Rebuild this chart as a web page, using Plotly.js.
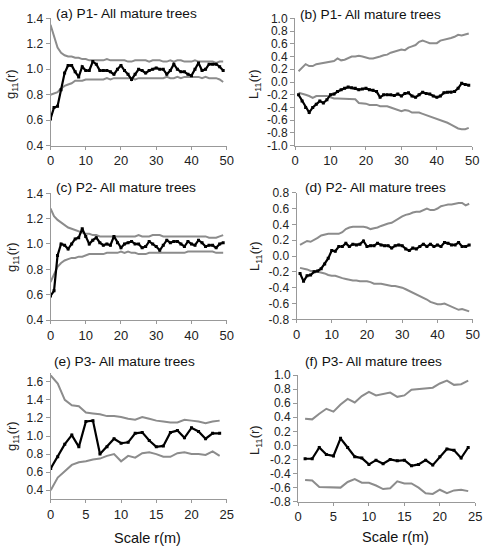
<!DOCTYPE html>
<html>
<head>
<meta charset="utf-8">
<script src="https://cdn.plot.ly/plotly-3.0.1.min.js"></script>
<style>
  html, body { margin: 0; padding: 0; background: #fff; }
  #chart { width: 484px; height: 550px; }
</style>
</head>
<body>
<div id="chart"></div>
<script>
// Scale r (m)
const r0to49 = [0,1,2,3,4,5,6,7,8,9,10,11,12,13,14,15,16,17,18,19,20,21,22,23,24,25,26,27,28,29,30,31,32,33,34,35,36,37,38,39,40,41,42,43,44,45,46,47,48,49];
const r1to49 = [1,2,3,4,5,6,7,8,9,10,11,12,13,14,15,16,17,18,19,20,21,22,23,24,25,26,27,28,29,30,31,32,33,34,35,36,37,38,39,40,41,42,43,44,45,46,47,48,49];
const r0to24 = [0,1,2,3,4,5,6,7,8,9,10,11,12,13,14,15,16,17,18,19,20,21,22,23,24];
const r1to24 = [1,2,3,4,5,6,7,8,9,10,11,12,13,14,15,16,17,18,19,20,21,22,23,24];

// (a) P1 g11(r)
const gP1 = [0.61,0.70,0.71,0.84,0.97,1.03,1.03,0.98,0.94,1.02,0.99,0.99,1.06,1.04,0.99,0.99,0.99,0.98,0.96,1.00,1.03,0.99,0.96,0.92,0.96,1.00,0.99,0.97,0.99,1.00,1.01,1.00,1.00,0.96,0.99,1.04,1.00,0.98,0.98,0.96,0.95,1.00,1.05,0.99,1.00,1.04,1.04,1.04,1.02,0.99];
const gP1Hi = [1.35,1.25,1.17,1.13,1.11,1.10,1.10,1.09,1.09,1.08,1.08,1.07,1.07,1.07,1.07,1.07,1.08,1.07,1.07,1.07,1.07,1.07,1.06,1.06,1.07,1.07,1.07,1.07,1.06,1.07,1.07,1.07,1.06,1.06,1.07,1.06,1.07,1.07,1.06,1.06,1.06,1.07,1.06,1.06,1.06,1.06,1.06,1.05,1.06,1.06];
const gP1Lo = [0.80,0.81,0.82,0.85,0.87,0.88,0.89,0.91,0.91,0.91,0.92,0.92,0.92,0.92,0.92,0.92,0.93,0.92,0.93,0.93,0.93,0.93,0.93,0.93,0.92,0.93,0.93,0.93,0.93,0.93,0.93,0.93,0.93,0.94,0.93,0.93,0.94,0.93,0.94,0.94,0.94,0.94,0.94,0.93,0.94,0.93,0.93,0.93,0.92,0.90];

// (b) P1 L11(r)
const lP1 = [-0.20,-0.30,-0.40,-0.48,-0.40,-0.35,-0.30,-0.33,-0.28,-0.20,-0.19,-0.15,-0.12,-0.10,-0.08,-0.09,-0.10,-0.12,-0.11,-0.10,-0.12,-0.13,-0.15,-0.24,-0.20,-0.20,-0.20,-0.21,-0.19,-0.22,-0.18,-0.17,-0.22,-0.24,-0.20,-0.16,-0.18,-0.19,-0.22,-0.24,-0.22,-0.17,-0.16,-0.16,-0.15,-0.10,-0.02,-0.04,-0.05];
const lP1Hi = [0.17,0.22,0.28,0.25,0.25,0.28,0.29,0.30,0.30,0.31,0.33,0.37,0.34,0.35,0.38,0.40,0.40,0.41,0.40,0.38,0.37,0.37,0.38,0.40,0.42,0.43,0.46,0.48,0.49,0.51,0.50,0.54,0.56,0.58,0.63,0.65,0.63,0.61,0.61,0.61,0.65,0.66,0.67,0.69,0.71,0.74,0.73,0.75,0.76];
const lP1Lo = [-0.17,-0.18,-0.20,-0.22,-0.25,-0.22,-0.22,-0.22,-0.22,-0.24,-0.26,-0.26,-0.26,-0.26,-0.27,-0.27,-0.27,-0.33,-0.33,-0.34,-0.36,-0.36,-0.36,-0.38,-0.38,-0.38,-0.40,-0.42,-0.45,-0.46,-0.44,-0.45,-0.48,-0.48,-0.48,-0.50,-0.52,-0.54,-0.55,-0.57,-0.60,-0.62,-0.64,-0.67,-0.70,-0.73,-0.74,-0.74,-0.72];

// (c) P2 g11(r)
const gP2 = [0.59,0.63,0.91,1.00,0.99,0.96,1.00,1.04,1.05,1.12,1.06,1.00,1.03,1.05,1.01,0.99,1.00,0.99,1.06,1.01,0.97,1.00,1.01,1.02,1.00,1.00,0.97,0.98,1.02,1.00,0.98,0.95,0.99,1.03,1.01,1.02,1.02,1.00,0.98,1.02,1.00,0.99,1.03,1.01,0.98,0.99,0.99,0.97,1.00,1.01];
const gP2Hi = [1.28,1.22,1.19,1.17,1.15,1.13,1.12,1.11,1.10,1.09,1.08,1.08,1.07,1.07,1.06,1.06,1.06,1.06,1.06,1.06,1.06,1.06,1.06,1.06,1.06,1.07,1.06,1.06,1.06,1.07,1.07,1.07,1.06,1.06,1.06,1.06,1.06,1.06,1.06,1.06,1.06,1.06,1.06,1.06,1.06,1.05,1.05,1.05,1.06,1.07];
const gP2Lo = [0.70,0.76,0.82,0.85,0.87,0.88,0.89,0.89,0.90,0.90,0.91,0.92,0.92,0.92,0.92,0.92,0.93,0.93,0.93,0.93,0.94,0.93,0.94,0.93,0.93,0.92,0.92,0.92,0.93,0.93,0.93,0.93,0.93,0.93,0.93,0.93,0.93,0.93,0.93,0.94,0.94,0.94,0.94,0.94,0.94,0.94,0.94,0.93,0.93,0.93];

// (d) P2 L11(r)
const lP2 = [-0.22,-0.32,-0.25,-0.24,-0.20,-0.19,-0.16,-0.10,-0.03,0.07,0.06,0.12,0.12,0.16,0.12,0.15,0.14,0.15,0.19,0.12,0.13,0.13,0.16,0.14,0.13,0.13,0.10,0.13,0.14,0.13,0.09,0.07,0.10,0.09,0.12,0.15,0.12,0.15,0.12,0.14,0.12,0.17,0.16,0.14,0.14,0.17,0.12,0.12,0.14];
const lP2Hi = [0.14,0.17,0.19,0.18,0.20,0.23,0.26,0.27,0.28,0.28,0.28,0.28,0.30,0.34,0.36,0.37,0.37,0.37,0.37,0.36,0.34,0.35,0.36,0.38,0.40,0.41,0.42,0.45,0.48,0.50,0.52,0.53,0.55,0.56,0.56,0.58,0.60,0.58,0.58,0.60,0.63,0.64,0.65,0.65,0.66,0.67,0.67,0.64,0.66];
const lP2Lo = [-0.15,-0.16,-0.17,-0.19,-0.19,-0.20,-0.21,-0.22,-0.24,-0.25,-0.25,-0.27,-0.28,-0.29,-0.30,-0.31,-0.31,-0.32,-0.32,-0.32,-0.33,-0.35,-0.35,-0.35,-0.36,-0.37,-0.38,-0.38,-0.39,-0.40,-0.42,-0.44,-0.47,-0.48,-0.50,-0.52,-0.55,-0.58,-0.60,-0.61,-0.61,-0.60,-0.62,-0.64,-0.66,-0.68,-0.67,-0.69,-0.70];

// (e) P3 g11(r)
const gP3 = [0.64,0.77,0.91,1.01,0.88,1.16,1.17,0.80,0.88,0.97,0.92,0.93,1.03,1.04,0.95,0.88,0.89,1.04,1.06,0.98,1.09,1.05,0.97,1.03,1.03];
const gP3Hi = [1.67,1.58,1.40,1.34,1.33,1.26,1.25,1.24,1.22,1.22,1.21,1.19,1.18,1.21,1.19,1.17,1.16,1.15,1.15,1.18,1.17,1.16,1.14,1.16,1.17];
const gP3Lo = [0.40,0.54,0.61,0.68,0.71,0.72,0.74,0.75,0.78,0.80,0.72,0.78,0.76,0.81,0.82,0.80,0.77,0.77,0.81,0.82,0.80,0.80,0.79,0.83,0.78];

// (f) P3 L11(r)
const lP3 = [-0.19,-0.19,-0.03,-0.13,-0.15,0.10,-0.03,-0.16,-0.18,-0.27,-0.21,-0.26,-0.20,-0.22,-0.21,-0.29,-0.27,-0.21,-0.28,-0.16,-0.05,-0.07,-0.18,-0.03];
const lP3Hi = [0.38,0.37,0.45,0.52,0.48,0.58,0.66,0.61,0.70,0.76,0.71,0.73,0.75,0.69,0.71,0.79,0.80,0.81,0.82,0.88,0.92,0.86,0.87,0.92];
const lP3Lo = [-0.49,-0.50,-0.59,-0.59,-0.59,-0.60,-0.52,-0.48,-0.53,-0.53,-0.57,-0.62,-0.61,-0.51,-0.54,-0.54,-0.60,-0.68,-0.69,-0.63,-0.68,-0.64,-0.63,-0.65];

// Tick labels
const xTicks50 = [0, 10, 20, 30, 40, 50];
const xTicks25 = [0, 5, 10, 15, 20, 25];
const yTicksG = [0.4, 0.6, 0.8, 1.0, 1.2, 1.4];
const yTicksG3 = [0.4, 0.6, 0.8, 1.0, 1.2, 1.4, 1.6];
const yTicksL1 = [-1.0, -0.8, -0.6, -0.4, -0.2, 0.0, 0.2, 0.4, 0.6, 0.8, 1.0];
const yTicksL2 = [-0.8, -0.6, -0.4, -0.2, 0.0, 0.2, 0.4, 0.6, 0.8];
const yTicksL3 = [-0.8, -0.6, -0.4, -0.2, 0.0, 0.2, 0.4, 0.6, 0.8, 1.0];

const panelTitles = ['(a) P1- All mature trees', '(b) P1- All mature trees',
  '(c) P2- All mature trees', '(d) P2- All mature trees',
  '(e) P3- All mature trees', '(f) P3- All mature trees'];

const W = 484, H = 550;
const FONT = 'Liberation Sans, Arial, sans-serif';
const GREY = '#8c8c8c';

// one panel = two envelope lines + observed line
function panel(n, x, obs, hi, lo) {
  const ax = n === 1 ? '' : n;
  const env = (y) => ({ x: x, y: y, type: 'scatter', mode: 'lines',
    line: { color: GREY, width: 2 }, xaxis: 'x' + ax, yaxis: 'y' + ax, hoverinfo: 'skip' });
  return [env(hi), env(lo), {
    x: x, y: obs, type: 'scatter', mode: 'lines+markers',
    line: { color: '#000', width: 2.2 }, marker: { color: '#000', size: 3, symbol: 'square' },
    xaxis: 'x' + ax, yaxis: 'y' + ax
  }];
}

const traces = [].concat(
  panel(1, r0to49, gP1, gP1Hi, gP1Lo),
  panel(2, r1to49, lP1, lP1Hi, lP1Lo),
  panel(3, r0to49, gP2, gP2Hi, gP2Lo),
  panel(4, r1to49, lP2, lP2Hi, lP2Lo),
  panel(5, r0to24, gP3, gP3Hi, gP3Lo),
  panel(6, r1to24, lP3, lP3Hi, lP3Lo)
);

// axes placed from pixel boxes
function xAxis(left, right, range, ticks, anchor) {
  return { domain: [left / W, right / W], range: range, anchor: anchor,
    tickvals: ticks, ticktext: ticks.map(String),
    showline: true, linecolor: '#999', linewidth: 1, ticks: 'outside', ticklen: 3, tickcolor: '#999',
    showgrid: false, zeroline: false, tickfont: { family: FONT, size: 13, color: '#222' } };
}
function yAxis(top, bottom, range, ticks, anchor) {
  return { domain: [1 - bottom / H, 1 - top / H], range: range, anchor: anchor,
    tickvals: ticks, ticktext: ticks.map(v => v.toFixed(1)),
    showline: true, linecolor: '#999', linewidth: 1, ticks: 'outside', ticklen: 4, tickcolor: '#999',
    showgrid: false, zeroline: false, tickfont: { family: FONT, size: 12, color: '#222' } };
}

const layout = {
  width: W, height: H,
  margin: { l: 0, r: 0, t: 0, b: 0 },
  paper_bgcolor: '#fff', plot_bgcolor: '#fff',
  showlegend: false,
  xaxis:  xAxis(50.5, 226.7, [0, 50], xTicks50, 'y'),
  yaxis:  yAxis(18.3, 145.7, [0.4, 1.4], yTicksG, 'x'),
  xaxis2: xAxis(295, 472.3, [0, 50], xTicks50, 'y2'),
  yaxis2: yAxis(18.3, 145.7, [-1, 1], yTicksL1, 'x2'),
  xaxis3: xAxis(50.5, 226.7, [0, 50], xTicks50, 'y3'),
  yaxis3: yAxis(193.3, 320, [0.4, 1.4], yTicksG, 'x3'),
  xaxis4: xAxis(296.5, 472.7, [0, 50], xTicks50, 'y4'),
  yaxis4: yAxis(192.7, 319.3, [-0.8, 0.8], yTicksL2, 'x4'),
  xaxis5: xAxis(50.7, 226.7, [0, 25], xTicks25, 'y5'),
  yaxis5: yAxis(372.7, 499.3, [0.3, 1.7], yTicksG3, 'x5'),
  xaxis6: xAxis(298, 475.3, [0, 25], xTicks25, 'y6'),
  yaxis6: yAxis(375, 501.7, [-0.8, 1.0], yTicksL3, 'x6'),
  annotations: []
};

// panel titles
const titlePos = [[54, 13], [298, 15], [54, 187], [303, 187], [52, 361], [303, 361]];
panelTitles.forEach((t, i) => {
  layout.annotations.push({ text: t, xref: 'paper', yref: 'paper',
    x: titlePos[i][0] / W, y: 1 - titlePos[i][1] / H, xanchor: 'left', yanchor: 'middle',
    showarrow: false, font: { family: FONT, size: 13.7, color: '#111' } });
});

// y axis titles
const yTitlePos = [[12, 84, 'g'], [255, 84, 'L'], [12, 257, 'g'], [255, 256, 'L'], [12, 436, 'g'], [255, 440, 'L']];
yTitlePos.forEach(p => {
  layout.annotations.push({ text: p[2] + '<sub>11</sub>(r)', xref: 'paper', yref: 'paper',
    x: p[0] / W, y: 1 - p[1] / H, xanchor: 'center', yanchor: 'middle', textangle: -90,
    showarrow: false, font: { family: FONT, size: 13, color: '#222' } });
});

// x axis titles
[[147, 538], [395, 537]].forEach(p => {
  layout.annotations.push({ text: 'Scale r(m)', xref: 'paper', yref: 'paper',
    x: p[0] / W, y: 1 - p[1] / H, xanchor: 'center', yanchor: 'middle',
    showarrow: false, font: { family: FONT, size: 14.5, color: '#111' } });
});

Plotly.newPlot('chart', traces, layout, { staticPlot: true, displayModeBar: false });
</script>
</body>
</html>
